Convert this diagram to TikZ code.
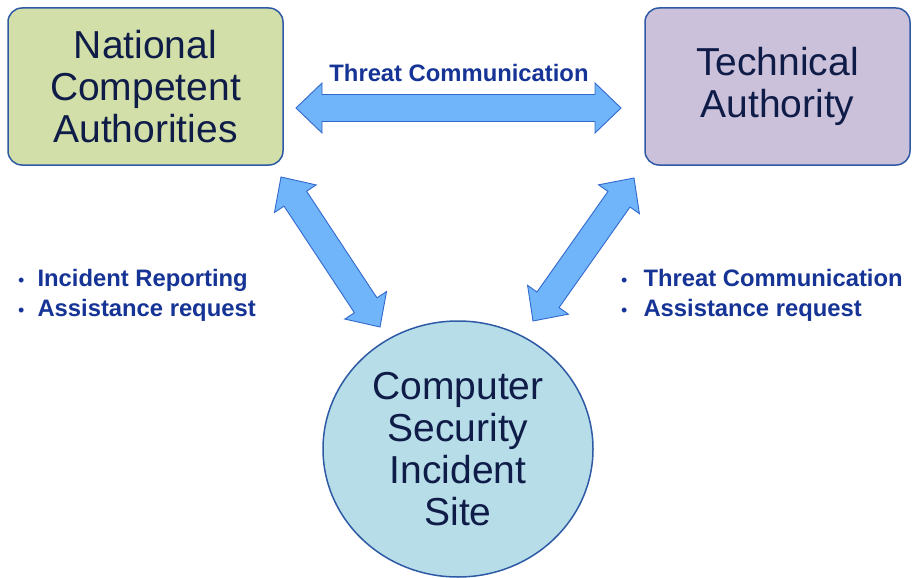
\documentclass[tikz,border=0pt]{standalone}
\usepackage{fontspec}
\setmainfont{Liberation Sans}
\usetikzlibrary{calc,shapes.geometric}

\definecolor{navy}{RGB}{15,28,72}
\definecolor{labelblue}{RGB}{22,52,150}
\definecolor{edgeblue}{RGB}{46,90,165}
\definecolor{ncafill}{RGB}{210,223,168}
\definecolor{tafill}{RGB}{204,193,218}
\definecolor{sitefill}{RGB}{183,221,232}
\definecolor{arrowfill}{RGB}{112,180,250}
\definecolor{arrowedge}{RGB}{50,105,205}

% Block double arrow between two named coordinates:
% head length, head half-width, shaft half-width
\newcommand\headlen{26pt}
\newcommand\headhw{25pt}
\newcommand\shafthw{13.5pt}
\newcommand\fatarrow[2]{%
  \draw[fatarrow] (#1)
    -- ($ ($(#1)!\headlen!(#2)$) !\headhw!90:(#2) $)
    -- ($ ($(#1)!\headlen!(#2)$) !\shafthw!90:(#2) $)
    -- ($ ($(#2)!\headlen!(#1)$) !\shafthw!-90:(#1) $)
    -- ($ ($(#2)!\headlen!(#1)$) !\headhw!-90:(#1) $)
    -- (#2)
    -- ($ ($(#2)!\headlen!(#1)$) !\headhw!90:(#1) $)
    -- ($ ($(#2)!\headlen!(#1)$) !\shafthw!90:(#1) $)
    -- ($ ($(#1)!\headlen!(#2)$) !\shafthw!-90:(#2) $)
    -- ($ ($(#1)!\headlen!(#2)$) !\headhw!-90:(#2) $)
    -- cycle;}

% Bullet mark used in the side lists
\newcommand\listdot{{\mdseries\fontsize{18}{30}\selectfont\textbullet}}

\begin{document}
\begin{tikzpicture}[x=1pt,y=-1pt,
  bigtext/.style={text=navy, align=center, font=\fontsize{39}{42}\selectfont, inner sep=0pt},
  box/.style={bigtext, draw=edgeblue, line width=1.5pt, rounded corners=14pt},
  fatarrow/.style={draw=arrowedge, line width=0.9pt, fill=arrowfill, line join=miter},
  lbl/.style={text=labelblue, font=\bfseries\fontsize{23.8}{30}\selectfont, inner sep=0pt},
  bullets/.style={lbl, anchor=north west}
]
\useasboundingbox (0,0) rectangle (913,578);
\fill[white] (0,0) rectangle (913,578);

% Parties
\node[box, fill=ncafill, minimum width=275pt, minimum height=157pt] (nca) at (145.5,86.5)
  {National\\Competent\\Authorities};
\node[box, fill=tafill, minimum width=265pt, minimum height=157pt] (ta) at (777.5,86.5)
  {Technical\\Authority};
\node[bigtext, ellipse, draw=edgeblue, line width=1.5pt, fill=sitefill,
      minimum width=270pt, minimum height=256pt] (site) at (458,449)
  {Computer\\Security\\Incident\\Site};

% Arrow end points
\coordinate (h1) at (296,108);
\coordinate (h2) at (621,108);
\coordinate (l1) at (281,177);
\coordinate (l2) at (380,327);
\coordinate (r1) at (634,178);
\coordinate (r2) at (533,321);

\fatarrow{h1}{h2}
\fatarrow{l1}{l2}
\fatarrow{r1}{r2}

% Labels
\node[lbl] (tc) at (459,73) {Threat Communication};
\node[bullets] (lb) at (18,265) {%
  \begin{tabular}{@{}l@{\hspace{13pt}}l@{}}
  \listdot & Incident Reporting\\[0pt]
  \listdot & Assistance request
  \end{tabular}};
\node[bullets] (rb) at (621,265) {%
  \begin{tabular}{@{}l@{\hspace{16pt}}l@{}}
  \listdot & Threat Communication\\[0pt]
  \listdot & Assistance request
  \end{tabular}};
\end{tikzpicture}
\end{document}
